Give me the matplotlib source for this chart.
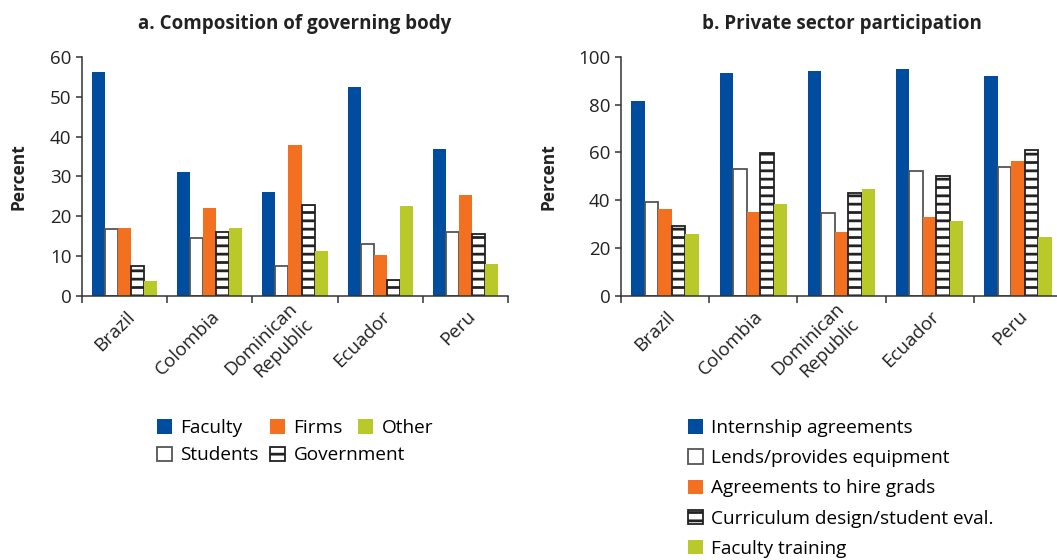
import matplotlib
matplotlib.use('Agg')
import matplotlib.pyplot as plt
import matplotlib.transforms as mtransforms
from matplotlib.patches import Patch
import numpy as np

plt.rcParams['font.family'] = ['Open Sans', 'DejaVu Sans']
plt.rcParams['hatch.linewidth'] = 2.0

# data
countries = ['Brazil', 'Colombia', 'Dominican\nRepublic', 'Ecuador', 'Peru']

# a. Composition of governing body
gov_labels = ['Faculty', 'Students', 'Firms', 'Government', 'Other']
faculty = [56.2, 31.1, 26.0, 52.5, 37.0]
students = [16.7, 14.5, 7.4, 12.9, 16.1]
firms = [16.9, 22.0, 37.9, 10.2, 25.2]
government = [7.5, 16.0, 22.8, 3.9, 15.4]
other = [3.7, 16.9, 11.2, 22.6, 7.9]

# b. Private sector participation
priv_labels = ['Internship agreements', 'Lends/provides equipment',
               'Agreements to hire grads', 'Curriculum design/student eval.',
               'Faculty training']
internship = [81.7, 93.2, 94.0, 94.8, 91.9]
equipment = [39.4, 53.1, 34.6, 52.1, 53.9]
hire_grads = [36.5, 35.1, 26.8, 33.0, 56.3]
curriculum = [29.1, 59.7, 43.2, 50.3, 61.0]
fac_training = [26.0, 38.4, 44.8, 31.3, 24.6]

BLUE = '#004C9F'
ORANGE = '#F37021'
GREEN = '#BAC92A'
DARK = '#333333'
TXT = '#222222'
W, H = 1057, 560

# style of the 5 series: solid blue, open, orange, striped, green
styles = [
    dict(facecolor=BLUE, edgecolor='none'),
    dict(facecolor='white', edgecolor='#555555', linewidth=1.3),
    dict(facecolor=ORANGE, edgecolor='none'),
    dict(facecolor='white', edgecolor='#222222', linewidth=1.3, hatch='--'),
    dict(facecolor=GREEN, edgecolor='none'),
]


def draw_panel(ax, series, ymax, step, title):
    x = np.arange(len(countries))
    w = 0.153
    for i, vals in enumerate(series):
        ax.bar(x + (i - 2) * w, vals, width=w, **styles[i])

    ax.set_xlim(-0.5, len(countries) - 0.5)
    ax.set_ylim(0, ymax)
    ax.set_yticks(np.arange(0, ymax + 1, step))
    for s in ['top', 'right']:
        ax.spines[s].set_visible(False)
    for s in ['left', 'bottom']:
        ax.spines[s].set_color(DARK)
        ax.spines[s].set_linewidth(1.1)

    ax.set_xticks(x)
    ax.set_xticklabels(countries, rotation=45, ha='right', va='center',
                       rotation_mode='anchor', multialignment='right',
                       linespacing=1.25)
    ax.set_xticks(np.arange(-0.5, len(countries)), minor=True)
    ax.tick_params(axis='x', which='major', length=0, pad=13, labelsize=13.5,
                   labelcolor=TXT)
    ax.tick_params(axis='x', which='minor', length=5, width=1.1, color=DARK)
    ax.tick_params(axis='y', length=4.5, width=1.1, color=DARK, pad=3,
                   labelsize=13.5, labelcolor=TXT)
    off = mtransforms.ScaledTranslation(0.07, 0, ax.figure.dpi_scale_trans)
    for lbl in ax.get_xticklabels():
        lbl.set_transform(lbl.get_transform() + off)

    ax.set_ylabel('Percent', fontsize=12.5, fontweight='bold', color=TXT)
    ax.set_title(title, fontsize=13.5, fontweight='bold', pad=20, color=TXT)


def legend_item(fig, style, label, x, y):
    # one legend entry, handle left edge at x, row centre at y (pixels)
    fig.legend(handles=[Patch(**style, label=label)], loc='center left',
               bbox_to_anchor=(x / W, 1 - y / H), frameon=False, fontsize=13.7,
               handlelength=0.78, handleheight=0.78, handletextpad=0.45,
               borderpad=0, borderaxespad=0)


fig = plt.figure(figsize=(W / 100, H / 100), dpi=100)

ax1 = fig.add_axes([82 / W, 1 - 295.7 / H, 426 / W, 238.7 / H])
draw_panel(ax1, [faculty, students, firms, government, other], 60, 10,
           'a. Composition of governing body')
ax1.yaxis.set_label_coords(-0.128, 0.5)

ax2 = fig.add_axes([621 / W, 1 - 295.7 / H, 441 / W, 238.7 / H])
draw_panel(ax2, [internship, equipment, hire_grads, curriculum, fac_training], 100, 20,
           'b. Private sector participation')
ax2.yaxis.set_label_coords(-0.145, 0.5)

# left legend: two rows, not column aligned
left_pos = [(157, 428), (157, 455.5), (270, 428), (270, 455.5), (358, 428)]
for i, (px, py) in enumerate(left_pos):
    legend_item(fig, styles[i], gov_labels[i], px, py)

# right legend: one column
for i in range(5):
    legend_item(fig, styles[i], priv_labels[i], 688, 428 + i * 30.2)

fig.savefig('out.png', dpi=100)
